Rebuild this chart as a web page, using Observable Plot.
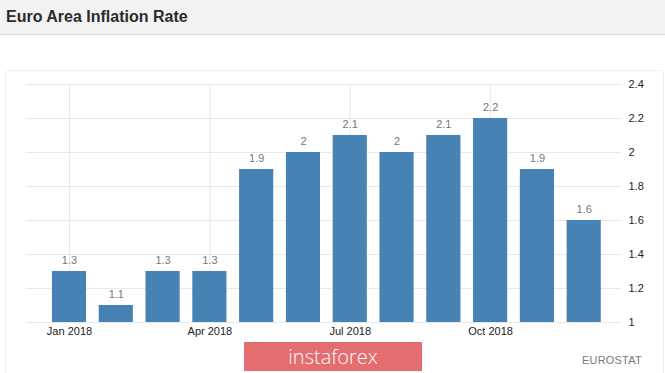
<!DOCTYPE html>
<html>
<head>
<meta charset="utf-8">
<script src="https://cdn.jsdelivr.net/npm/d3@7"></script>
<script src="https://cdn.jsdelivr.net/npm/@observablehq/plot@0.6"></script>
<style>
  html, body { margin: 0; padding: 0; background: #fff; }
  #wrap { position: relative; width: 665px; height: 373px; overflow: hidden; font-family: "Liberation Sans", Arial, sans-serif; }
  #title { height: 34px; background: #f2f2f2; border-bottom: 1px solid #dadada; box-sizing: content-box; }
  #title span { position: absolute; left: 6px; top: 8px; font-size: 16px; font-weight: bold; color: #2b2b2b; }
  #frame { position: absolute; left: 5px; top: 70px; width: 657px; height: 330px; border: 1px solid #eeeeee; border-radius: 4px; }
  #chart { position: absolute; left: 0; top: 35px; }
  #wm { position: absolute; left: 244px; top: 342px; width: 178px; height: 29px; background: #e46d6f; color: #fff; font-size: 20px; text-align: center; line-height: 29px; font-family: "Open Sans", "Liberation Sans", sans-serif; font-weight: 300; }
  #src { position: absolute; left: 582px; top: 354px; font-size: 11px; color: #7a7a7a; letter-spacing: 0.2px; }
</style>
</head>
<body>
<div id="wrap">
  <div id="title"><span>Euro Area Inflation Rate</span></div>
  <div id="frame"></div>
  <div id="chart"></div>
  <div id="wm">instaforex</div>
  <div id="src">EUROSTAT</div>
</div>
<script>
const months = ["Jan 2018","Feb 2018","Mar 2018","Apr 2018","May 2018","Jun 2018","Jul 2018","Aug 2018","Sep 2018","Oct 2018","Nov 2018","Dec 2018"];
const rates = [1.3, 1.1, 1.3, 1.3, 1.9, 2.0, 2.1, 2.0, 2.1, 2.2, 1.9, 1.6];
const xTicks = ["Jan 2018","Apr 2018","Jul 2018","Oct 2018"];
const yTicks = [1, 1.2, 1.4, 1.6, 1.8, 2, 2.2, 2.4];

const data = months.map((m, i) => ({month: m, rate: rates[i]}));

const chart = Plot.plot({
  width: 665,
  height: 338,
  marginTop: 49,
  marginBottom: 51,
  marginLeft: 26,
  marginRight: 44,
  style: {background: "transparent", fontFamily: "Liberation Sans, Arial, sans-serif", fontSize: "11px", overflow: "visible"},
  x: {type: "band", domain: months, range: [45.6, 607.1], paddingInner: 0.27, paddingOuter: 0.135, round: false},
  y: {domain: [1, 2.4]},
  marks: [
    Plot.gridY(yTicks, {stroke: "#e8e8e8", strokeOpacity: 1}),
    Plot.gridX(xTicks, {stroke: "#e8e8e8", strokeOpacity: 1}),
    Plot.barY(data, {x: "month", y1: 1, y2: "rate", fill: "#4682b4"}),
    Plot.text(data, {x: "month", y: "rate", text: d => String(d.rate), dy: -11, fill: "#777", fontSize: 11}),
    Plot.axisY(yTicks, {anchor: "right", tickSize: 0, tickPadding: 7, textAnchor: "start", fill: "#222", label: null, tickFormat: d => String(d)}),
    Plot.axisX(xTicks, {anchor: "bottom", tickSize: 0, tickPadding: 5, fill: "#222", label: null})
  ]
});
document.getElementById("chart").appendChild(chart);
</script>
</body>
</html>
